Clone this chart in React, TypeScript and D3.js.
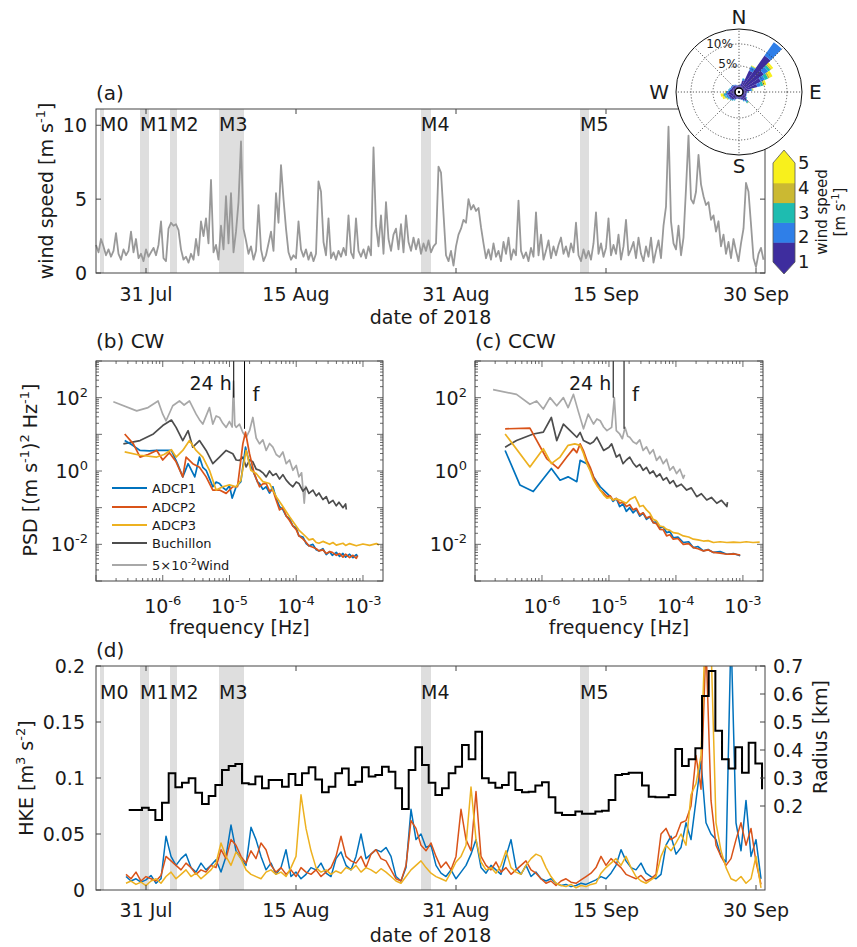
import React from "react";
import * as d3 from "d3";

const FONT = "'DejaVu Sans', sans-serif";
const DAY = 864e5;
const T0 = Date.UTC(2018, 6, 26);
const day = (d: number) => new Date(T0 + d * DAY);

// measurement periods (days after 26 Jul 2018)
const mNames = ["M0", "M1", "M2", "M3", "M4", "M5"];
const mStart = [0.4, 4.4, 7.4, 12.3, 32.5, 48.4];
const mEnd = [0.8, 5.3, 8.1, 14.8, 33.5, 49.3];

const dateTicks = ["2018-07-31", "2018-08-15", "2018-08-31", "2018-09-15", "2018-09-30"];

// (a) wind speed [m/s], 6-hourly from 26 Jul
const windStep = 0.25;
const windSpeed = [
  1.9, 1.4, 2.3, 1.8, 1.2, 1.6, 1.1, 1.5, 2.7, 1.3, 0.9, 1.6, 1.2, 1.5, 2.8, 1.4,
  2.3, 1.0, 1.3, 0.8, 1.6, 1.1, 1.4, 1.7, 1.2, 1.9, 3.5, 1.0, 0.8, 3.0, 3.4, 3.2,
  3.3, 2.9, 1.6, 0.9, 1.1, 0.7, 1.3, 0.9, 2.3, 1.2, 3.5, 2.5, 3.7, 2.0, 6.3, 1.4,
  1.9, 0.9, 3.2, 1.6, 5.2, 2.0, 5.4, 1.4, 2.8, 4.8, 8.9, 3.0, 2.2, 1.3, 1.8, 0.9,
  1.5, 4.6, 1.6, 0.8, 1.2, 2.0, 2.8, 1.5, 5.4, 3.4, 7.3, 5.0, 3.0, 1.4, 0.9, 1.2,
  1.0, 3.5, 1.6, 1.1, 1.6, 0.9, 1.4, 0.8, 1.3, 6.2, 5.5, 2.1, 1.2, 3.7, 1.0, 1.4,
  0.9, 1.5, 1.1, 1.7, 1.2, 3.9, 1.4, 1.0, 3.7, 1.5, 1.1, 1.6, 1.0, 1.8, 1.2, 8.5,
  3.2, 1.8, 3.9, 1.3, 4.8, 2.3, 1.5, 2.6, 3.0, 1.6, 3.3, 1.4, 3.9, 2.1, 1.5, 2.4,
  1.6, 2.3, 1.3, 2.0, 1.5, 2.2, 1.4, 1.8, 2.0, 7.2, 6.8, 4.0, 1.2, 0.8, 1.5, 0.5,
  1.8, 2.6, 3.0, 3.6, 3.4, 5.0, 4.3, 4.6, 4.2, 4.4, 3.1, 2.0, 1.0, 1.6, 0.9, 2.0,
  1.1, 1.5, 0.8, 2.1, 1.3, 2.4, 0.9, 1.6, 1.2, 4.9, 1.5, 1.0, 1.4, 0.8, 1.7, 1.1,
  4.1, 1.2, 2.6, 0.9, 1.5, 2.2, 1.0, 1.8, 1.2, 1.9, 2.4, 1.3, 1.8, 1.1, 2.0, 1.4,
  3.4, 1.2, 0.8, 1.6, 1.0, 1.5, 0.9, 2.0, 4.1, 1.3, 2.0, 1.1, 1.7, 3.7, 1.2, 1.9,
  1.3, 2.6, 0.9, 1.8, 3.6, 1.2, 1.6, 2.1, 1.0, 2.4, 1.3, 0.8, 1.8, 1.1, 2.4, 0.7,
  1.5, 2.2, 1.0, 3.2, 4.5, 9.9, 3.5, 2.0, 1.6, 3.2, 1.2, 2.4, 5.7, 9.3, 5.0, 4.7,
  5.5, 8.0, 6.0, 5.2, 4.6, 4.8, 3.6, 3.9, 2.8, 3.5, 1.8, 2.6, 1.3, 2.1, 1.0, 2.3,
  1.5, 0.8, 2.0, 3.0, 6.1, 5.5, 3.3, 1.0, 0.4, 1.3, 1.7, 0.9,
];

// wind rose: direction (deg from N) and frequency [%] per speed class
const roseDirs = [0, 10, 20, 30, 40, 50, 60, 70, 80, 90, 100, 110, 120, 130, 140, 150, 160, 170,
  180, 190, 200, 210, 220, 230, 240, 250, 260, 270, 280, 290, 300, 310, 320, 330, 340, 350];
const roseLow = [0.6, 0.8, 1.8, 4.5, 9.2, 6.0, 4.6, 3.4, 1.6, 1.0, 0.8, 0.8, 0.9, 1.1, 1.6, 1.2, 0.9, 0.7,
  0.6, 0.6, 0.7, 1.0, 1.2, 1.4, 1.5, 1.6, 1.8, 1.5, 1.2, 1.0, 0.9, 1.0, 0.9, 0.8, 0.7, 0.6];
const rose23 = [0.1, 0.2, 0.4, 0.9, 3.7, 1.2, 1.0, 0.8, 0.4, 0.2, 0.1, 0.1, 0.1, 0.2, 0.3, 0.2, 0.1, 0.1,
  0.1, 0.1, 0.1, 0.2, 0.3, 0.3, 0.4, 0.5, 0.5, 0.4, 0.3, 0.3, 0.3, 0.3, 0.2, 0.2, 0.1, 0.1];
const rose34 = [0, 0, 0.1, 0.2, 0, 0.6, 0.8, 0.6, 0.2, 0.1, 0, 0, 0, 0.1, 0.3, 0.1, 0, 0,
  0, 0, 0, 0.1, 0.1, 0.1, 0.2, 0.3, 0.3, 0.2, 0.1, 0.1, 0, 0, 0, 0, 0, 0];
const rose45 = [0, 0, 0, 0.1, 0, 0.3, 0.4, 0.3, 0.1, 0, 0, 0, 0, 0, 0.1, 0, 0, 0,
  0, 0, 0, 0, 0, 0, 0.1, 0.2, 0.2, 0.1, 0, 0, 0, 0, 0, 0, 0, 0];
const roseHigh = [0, 0, 0, 0.1, 0, 0.5, 0.7, 0.4, 0.1, 0, 0, 0, 0, 0, 0, 0, 0, 0,
  0, 0, 0, 0, 0, 0, 0.1, 0.4, 0.5, 0.1, 0, 0, 0, 0, 0, 0, 0, 0];
const speedColors = ["#3e2d9e", "#2f7fe8", "#1ebcb0", "#cbb932", "#f8f01c"];
const speedTicks = [1, 2, 3, 4, 5];

// (b) CW spectra, [log10 f (Hz), log10 PSD]
const cwWind = [[-6.74,1.89],[-6.39,1.64],[-6.22,1.73],[-6.07,1.91],[-6.0,1.55],[-5.95,1.37],[-5.85,1.78],[-5.75,1.91],[-5.68,1.8],[-5.6,1.91],[-5.5,1.55],[-5.45,1.4],[-5.4,1.28],[-5.3,1.73],[-5.25,1.28],[-5.2,1.5],[-5.15,1.46],[-5.1,1.3],[-5.05,1.19],[-5.0,1.35],[-4.96,1.2],[-4.94,2.45],[-4.92,1.25],[-4.9,1.19],[-4.85,1.28],[-4.8,1.05],[-4.75,0.92],[-4.7,1.1],[-4.65,1.46],[-4.6,0.9],[-4.55,0.74],[-4.5,0.85],[-4.45,0.56],[-4.4,0.75],[-4.35,0.65],[-4.3,0.45],[-4.25,0.38],[-4.2,0.52],[-4.15,0.2],[-4.1,0.3],[-4.05,0.02],[-4.0,0.15],[-3.96,-0.16],[-3.92,-0.05],[-3.88,-0.88],[-3.86,-0.4]];
const cwBuchillon = [[-6.59,0.74],[-6.34,0.83],[-6.14,1.01],[-6.0,1.24],[-5.87,1.39],[-5.8,1.19],[-5.7,0.83],[-5.62,1.1],[-5.55,0.65],[-5.45,0.83],[-5.35,0.56],[-5.25,0.2],[-5.15,0.38],[-5.05,0.56],[-4.95,0.47],[-4.9,0.3],[-4.85,0.29],[-4.8,0.38],[-4.75,0.11],[-4.7,0.3],[-4.65,0.25],[-4.6,0.05],[-4.55,0.02],[-4.5,-0.05],[-4.45,-0.16],[-4.4,0.0],[-4.35,-0.12],[-4.3,-0.07],[-4.25,-0.22],[-4.2,-0.1],[-4.15,-0.25],[-4.1,-0.35],[-4.05,-0.43],[-4.0,-0.3],[-3.96,-0.34],[-3.9,-0.55],[-3.85,-0.45],[-3.81,-0.61],[-3.75,-0.52],[-3.7,-0.68],[-3.66,-0.6],[-3.6,-0.78],[-3.55,-0.7],[-3.51,-0.88],[-3.45,-0.8],[-3.4,-0.95],[-3.36,-0.85],[-3.3,-1.0],[-3.26,-0.9],[-3.25,-1.05]];
const cwAdcp1 = [[-6.57,0.83],[-6.45,0.7],[-6.34,0.56],[-6.2,0.55],[-6.09,0.56],[-5.95,0.56],[-5.87,0.56],[-5.78,0.2],[-5.7,-0.16],[-5.62,0.2],[-5.52,-0.16],[-5.45,0.38],[-5.4,0.1],[-5.35,0.02],[-5.3,-0.2],[-5.25,-0.43],[-5.2,-0.3],[-5.15,-0.34],[-5.1,-0.45],[-5.05,-0.52],[-5.0,-0.4],[-4.96,-0.74],[-4.9,-0.43],[-4.83,-0.29],[-4.76,0.65],[-4.7,0.2],[-4.63,-0.07],[-4.58,-0.3],[-4.55,-0.34],[-4.5,-0.5],[-4.45,-0.43],[-4.4,-0.6],[-4.35,-0.43],[-4.3,-0.75],[-4.25,-0.97],[-4.2,-1.05],[-4.15,-1.23],[-4.1,-1.3],[-4.05,-1.5],[-4.0,-1.55],[-3.96,-1.77],[-3.9,-1.8],[-3.85,-1.98],[-3.81,-2.04],[-3.75,-2.0],[-3.7,-2.15],[-3.66,-2.18],[-3.6,-2.12],[-3.55,-2.28],[-3.5,-2.2],[-3.46,-2.3],[-3.4,-2.22],[-3.35,-2.33],[-3.3,-2.25],[-3.26,-2.35],[-3.2,-2.27],[-3.15,-2.36],[-3.1,-2.28],[-3.08,-2.33]];
const cwAdcp2 = [[-6.57,1.01],[-6.44,0.74],[-6.34,0.38],[-6.22,0.45],[-6.09,0.56],[-6.0,0.3],[-5.9,0.5],[-5.8,0.25],[-5.7,-0.16],[-5.65,0.38],[-5.55,0.2],[-5.45,0.1],[-5.35,-0.16],[-5.25,-0.52],[-5.15,-0.52],[-5.05,-0.61],[-4.95,-0.43],[-4.88,-0.43],[-4.8,0.74],[-4.76,1.06],[-4.7,0.47],[-4.63,-0.07],[-4.55,-0.43],[-4.5,-0.35],[-4.45,-0.34],[-4.4,-0.55],[-4.35,-0.52],[-4.3,-0.8],[-4.25,-1.06],[-4.2,-1.0],[-4.15,-1.23],[-4.1,-1.35],[-4.05,-1.5],[-4.0,-1.6],[-3.96,-1.77],[-3.9,-1.85],[-3.85,-1.95],[-3.81,-2.04],[-3.75,-2.08],[-3.7,-2.12],[-3.66,-2.18],[-3.6,-2.15],[-3.55,-2.25],[-3.5,-2.2],[-3.46,-2.22],[-3.4,-2.3],[-3.35,-2.25],[-3.3,-2.35],[-3.26,-2.27],[-3.2,-2.36],[-3.15,-2.3],[-3.1,-2.38],[-3.08,-2.31]];
const cwAdcp3 = [[-6.57,0.52],[-6.34,0.43],[-6.09,0.38],[-5.98,0.45],[-5.87,0.58],[-5.8,0.38],[-5.7,0.56],[-5.6,0.83],[-5.5,0.56],[-5.4,0.38],[-5.3,0.02],[-5.2,-0.52],[-5.1,-0.43],[-5.0,-0.38],[-4.9,-0.43],[-4.83,-0.25],[-4.75,0.56],[-4.68,0.02],[-4.6,-0.07],[-4.5,-0.29],[-4.4,-0.34],[-4.3,-0.7],[-4.2,-0.97],[-4.1,-1.25],[-3.96,-1.61],[-3.85,-1.8],[-3.81,-1.88],[-3.75,-1.85],[-3.7,-1.95],[-3.66,-1.97],[-3.6,-1.92],[-3.5,-2.0],[-3.45,-1.95],[-3.4,-2.02],[-3.3,-1.97],[-3.26,-2.03],[-3.2,-1.98],[-3.1,-2.04],[-3.0,-1.99],[-2.9,-2.03],[-2.8,-1.98],[-2.76,-2.02]];

// (c) CCW spectra
const ccwWind = [[-6.73,2.22],[-6.38,2.09],[-6.18,1.82],[-6.08,1.91],[-5.98,1.69],[-5.88,2.0],[-5.78,1.78],[-5.68,2.0],[-5.61,1.73],[-5.53,2.09],[-5.46,1.64],[-5.38,1.15],[-5.31,1.55],[-5.23,1.28],[-5.18,1.42],[-5.13,1.37],[-5.08,1.2],[-5.03,1.1],[-4.96,1.19],[-4.92,2.0],[-4.89,1.1],[-4.84,1.01],[-4.8,0.88],[-4.76,1.19],[-4.72,0.95],[-4.69,0.92],[-4.64,0.8],[-4.59,0.74],[-4.54,0.85],[-4.49,0.56],[-4.44,0.66],[-4.39,0.47],[-4.34,0.58],[-4.29,0.29],[-4.24,0.4],[-4.19,0.2],[-4.14,0.32],[-4.09,0.02],[-4.04,0.12],[-3.99,-0.07],[-3.94,0.05],[-3.89,-0.2],[-3.87,-0.1]];
const ccwBuchillon = [[-6.55,0.65],[-6.38,0.83],[-6.13,1.01],[-5.98,1.06],[-5.86,1.46],[-5.78,0.83],[-5.68,1.28],[-5.58,1.1],[-5.48,0.92],[-5.43,1.05],[-5.38,0.83],[-5.28,0.74],[-5.23,0.8],[-5.18,0.92],[-5.08,0.56],[-5.0,0.65],[-4.96,0.74],[-4.89,0.38],[-4.84,0.45],[-4.79,0.2],[-4.74,0.3],[-4.69,0.38],[-4.64,0.22],[-4.59,0.11],[-4.54,0.18],[-4.49,0.02],[-4.44,0.1],[-4.39,-0.07],[-4.34,0.0],[-4.29,-0.16],[-4.24,-0.08],[-4.19,-0.25],[-4.14,-0.18],[-4.09,-0.34],[-4.04,-0.26],[-3.99,-0.43],[-3.92,-0.36],[-3.84,-0.52],[-3.77,-0.46],[-3.69,-0.7],[-3.62,-0.62],[-3.54,-0.79],[-3.47,-0.72],[-3.39,-0.88],[-3.32,-0.8],[-3.24,-0.97],[-3.23,-0.85]];
const ccwAdcp1 = [[-6.55,0.56],[-6.33,-0.38],[-6.13,-0.56],[-5.86,0.07],[-5.73,-0.25],[-5.61,-0.16],[-5.48,-0.29],[-5.43,0.29],[-5.33,0.2],[-5.28,0.05],[-5.23,-0.16],[-5.18,-0.3],[-5.13,-0.43],[-5.08,-0.52],[-5.03,-0.61],[-4.98,-0.7],[-4.94,-0.83],[-4.89,-0.75],[-4.84,-0.97],[-4.79,-0.9],[-4.74,-1.1],[-4.69,-1.0],[-4.64,-1.14],[-4.59,-1.05],[-4.54,-1.23],[-4.49,-1.15],[-4.44,-1.32],[-4.39,-1.25],[-4.34,-1.41],[-4.29,-1.38],[-4.24,-1.55],[-4.19,-1.52],[-4.14,-1.68],[-4.09,-1.65],[-4.04,-1.82],[-3.97,-1.8],[-3.89,-1.95],[-3.81,-1.93],[-3.74,-2.09],[-3.67,-2.06],[-3.59,-2.18],[-3.52,-2.14],[-3.44,-2.22],[-3.34,-2.2],[-3.24,-2.27],[-3.14,-2.25],[-3.04,-2.31]];
const ccwAdcp2 = [[-6.55,1.15],[-6.18,1.17],[-5.93,0.34],[-5.76,0.07],[-5.63,0.38],[-5.53,0.61],[-5.48,0.5],[-5.43,0.74],[-5.38,0.55],[-5.33,0.29],[-5.28,0.1],[-5.23,-0.16],[-5.18,-0.35],[-5.13,-0.52],[-5.08,-0.6],[-5.03,-0.7],[-4.98,-0.68],[-4.94,-0.79],[-4.89,-0.75],[-4.84,-0.88],[-4.79,-0.85],[-4.74,-0.97],[-4.69,-0.92],[-4.64,-1.06],[-4.59,-1.02],[-4.54,-1.19],[-4.49,-1.14],[-4.44,-1.28],[-4.39,-1.24],[-4.34,-1.41],[-4.29,-1.44],[-4.24,-1.59],[-4.19,-1.6],[-4.14,-1.77],[-4.09,-1.74],[-4.04,-1.86],[-3.97,-1.84],[-3.89,-2.0],[-3.81,-1.98],[-3.74,-2.09],[-3.67,-2.12],[-3.59,-2.18],[-3.52,-2.15],[-3.44,-2.22],[-3.34,-2.24],[-3.24,-2.27],[-3.14,-2.26],[-3.04,-2.29]];
const ccwAdcp3 = [[-6.55,1.01],[-6.18,0.11],[-5.98,0.61],[-5.86,0.2],[-5.73,0.38],[-5.61,0.7],[-5.51,0.74],[-5.43,0.7],[-5.38,0.48],[-5.33,0.2],[-5.28,0.0],[-5.23,-0.25],[-5.18,-0.4],[-5.13,-0.52],[-5.08,-0.65],[-5.03,-0.74],[-4.98,-0.72],[-4.94,-0.79],[-4.89,-0.76],[-4.84,-0.79],[-4.79,-0.84],[-4.74,-0.88],[-4.69,-0.78],[-4.61,-0.7],[-4.57,-0.85],[-4.54,-0.97],[-4.49,-0.94],[-4.44,-1.06],[-4.39,-1.15],[-4.34,-1.32],[-4.29,-1.36],[-4.24,-1.5],[-4.19,-1.52],[-4.14,-1.59],[-4.09,-1.62],[-4.04,-1.68],[-3.97,-1.7],[-3.89,-1.77],[-3.81,-1.8],[-3.74,-1.86],[-3.67,-1.88],[-3.59,-1.91],[-3.52,-1.9],[-3.44,-1.95],[-3.34,-1.93],[-3.24,-1.95],[-3.14,-1.94],[-3.04,-1.95],[-2.95,-1.93],[-2.85,-1.95],[-2.75,-1.94]];

const seriesNames = ["ADCP1", "ADCP2", "ADCP3", "Buchillon", "Wind"];
const seriesColors = ["#0072bd", "#d95319", "#edb120", "#4d4d4d", "#a8a8a8"];
const inertialHz = 1.68e-5;
const diurnalHz = 1 / 86400;

// (d) HKE [m3 s-2], 12-hourly from 29 Jul
const hkeStart = 3;
const hkeStep = 0.5;
const hkeAdcp1 = [
  .012, .008, .010, .007, .009, .013, .006, .010, .048, .030, .022, .028, .032, .020, .016, .024,
  .018, .022, .027, .016, .030, .058, .035, .028, .022, .056, .045, .030, .018, .024, .014, .020,
  .036, .012, .016, .010, .014, .020, .018, .024, .015, .012, .028, .034, .022, .018, .030, .050,
  .028, .032, .036, .034, .038, .030, .012, .008, .020, .072, .045, .050, .038, .040, .022, .015,
  .012, .018, .010, .016, .022, .032, .045, .020, .015, .022, .018, .014, .030, .045, .020, .014,
  .022, .012, .016, .010, .008, .010, .006, .004, .005, .003, .004, .006, .005, .007, .009, .012,
  .010, .015, .022, .036, .026, .020, .018, .024, .015, .012, .010, .014, .040, .048, .032, .038,
  .060, .045, .080, .115, .060, .050, .045, .030, .025, .230, .060, .035, .080, .030, .045, .010,
];
const hkeAdcp2 = [
  .014, .010, .016, .008, .012, .010, .008, .013, .030, .026, .022, .018, .024, .020, .014, .018,
  .016, .022, .020, .036, .028, .045, .040, .030, .024, .035, .028, .042, .036, .022, .016, .020,
  .014, .018, .012, .020, .016, .014, .018, .012, .016, .020, .030, .048, .030, .026, .024, .030,
  .020, .032, .036, .028, .026, .018, .010, .008, .022, .062, .055, .040, .035, .042, .030, .020,
  .025, .018, .030, .072, .045, .035, .088, .030, .022, .018, .025, .016, .020, .014, .018, .022,
  .026, .018, .015, .010, .006, .008, .004, .008, .010, .007, .006, .009, .012, .015, .020, .030,
  .022, .028, .024, .020, .014, .012, .010, .013, .008, .010, .014, .050, .055, .045, .048, .060,
  .062, .075, .120, .090, .220, .080, .040, .030, .022, .028, .045, .060, .040, .055, .025, .005,
];
const hkeAdcp3 = [
  .006, .008, .005, .007, .004, .008, .010, .006, .012, .016, .010, .014, .018, .012, .015, .010,
  .014, .018, .024, .042, .030, .022, .034, .028, .018, .014, .012, .010, .016, .018, .014, .016,
  .012, .020, .030, .085, .055, .035, .020, .016, .018, .014, .017, .015, .020, .018, .022, .016,
  .020, .018, .015, .019, .016, .012, .008, .006, .012, .018, .022, .026, .020, .015, .012, .010,
  .008, .016, .025, .030, .040, .092, .045, .025, .018, .020, .015, .022, .035, .020, .016, .014,
  .022, .028, .032, .030, .020, .012, .006, .004, .003, .005, .002, .004, .003, .005, .006, .015,
  .020, .024, .028, .022, .030, .020, .012, .008, .006, .009, .012, .030, .040, .035, .042, .050,
  .040, .085, .095, .120, .250, .220, .060, .035, .020, .010, .008, .012, .006, .010, .030, .002,
];

// (d) eddy radius [km], 16-h blocks from 29 Jul
const radiusStart = 3.27;
const radiusStep = 2 / 3;
const radiusKm = [
  0.186, 0.186, 0.194, 0.186, 0.150, 0.212, 0.317, 0.267, 0.283, 0.299, 0.247, 0.207, 0.236, 0.275, 0.329,
  0.343, 0.350, 0.281, 0.278, 0.305, 0.263, 0.293, 0.293, 0.269, 0.314, 0.275, 0.317, 0.338, 0.295, 0.249,
  0.269, 0.317, 0.334, 0.275, 0.287, 0.338, 0.305, 0.311, 0.340, 0.322, 0.263, 0.189, 0.329, 0.410, 0.346,
  0.283, 0.239, 0.263, 0.317, 0.340, 0.418, 0.367, 0.465, 0.299, 0.283, 0.265, 0.275, 0.320, 0.257, 0.249,
  0.251, 0.273, 0.285, 0.231, 0.176, 0.168, 0.168, 0.180, 0.172, 0.172, 0.180, 0.183, 0.221, 0.311, 0.314,
  0.319, 0.319, 0.273, 0.233, 0.231, 0.231, 0.239, 0.404, 0.343, 0.367, 0.406, 0.593, 0.682, 0.469, 0.367,
  0.334, 0.410, 0.319, 0.426, 0.352,
];
const radiusEnd = 0.26;

const AX = "#444";
const TX = "#1a1a1a";
const FS = 19;

function Rich({ parts, size, supSize = 12, ...rest }: any) {
  let level = 0;
  return (
    <text {...rest} fontSize={size}>
      {parts.map(([s, sup]: [string, number], i: number) => {
        const dy = sup === level ? 0 : sup ? -size * 0.42 : size * 0.42;
        level = sup;
        return <tspan key={i} dy={dy} fontSize={sup ? supSize : size}>{s}</tspan>;
      })}
    </text>
  );
}

function Bands({ x, top, bottom, labelY }: any) {
  return (
    <g>
      {mNames.map((n, i) => (
        <rect key={n} x={x(day(mStart[i]))} y={top} width={x(day(mEnd[i])) - x(day(mStart[i]))}
          height={bottom - top} fill="#dedede" />
      ))}
      {mNames.map((n, i) => (
        <text key={n + "l"} x={x(day(mStart[i]))} y={labelY} fontSize={FS} fill={TX}>{n}</text>
      ))}
    </g>
  );
}

function DateAxis({ x, top, bottom, labelY, titleY }: any) {
  const fmt = d3.utcFormat("%d %b");
  return (
    <g>
      {dateTicks.map(s => {
        const t = new Date(s + "T00:00:00Z");
        const px = x(t);
        return (
          <g key={s}>
            <line x1={px} x2={px} y1={bottom} y2={bottom - 5} stroke={AX} />
            <line x1={px} x2={px} y1={top} y2={top + 5} stroke={AX} />
            <text x={px} y={labelY} textAnchor="middle" fontSize={FS} fill={TX}>{fmt(t)}</text>
          </g>
        );
      })}
      <text x={(x.range()[0] + x.range()[1]) / 2} y={titleY} textAnchor="middle" fontSize={FS} fill={TX}>date of 2018</text>
    </g>
  );
}

function SpecPanel({ x0, x1, top, bottom, title, data, yLabels, id }: any) {
  const xs = d3.scaleLog().domain([1e-7, 10 ** -2.7]).range([x0, x1]);
  const ys = d3.scaleLog().domain([1e-3, 1e3]).range([bottom, top]);
  const isMajor = (v: number) => Math.abs(Math.log10(v) - Math.round(Math.log10(v))) < 1e-6;
  const line = d3.line<number[]>().x(d => xs(10 ** d[0])).y(d => ys(10 ** d[1]));
  const order = [4, 3, 0, 1, 2];
  const x24 = xs(diurnalHz);
  const xf = xs(inertialHz);
  return (
    <g>
      <text x={x0} y={top - 13} fontSize={20} fill={TX}>{title}</text>
      <clipPath id={id}><rect x={x0} y={top} width={x1 - x0} height={bottom - top} /></clipPath>
      <g clipPath={`url(#${id})`}>
        {order.map(k => (
          <path key={k} d={line(data[k]) || ""} fill="none" stroke={seriesColors[k]} strokeWidth={1.7} strokeLinejoin="round" />
        ))}
        <line x1={x24} x2={x24} y1={top} y2={ys(10 ** 2)} stroke="#000" strokeWidth={1} />
        <line x1={xf} x2={xf} y1={top} y2={ys(10 ** 1.15)} stroke="#000" strokeWidth={1} />
      </g>
      <text x={x24 - 2} y={top + 29} textAnchor="end" fontSize={FS} fill={TX}>24 h</text>
      <text x={xf + 8} y={top + 40} fontSize={20} fill={TX}>f</text>
      {xs.ticks().filter(v => v <= 10 ** -2.7).map((v, i) => {
        const L = isMajor(v) ? 6 : 3;
        const px = xs(v);
        return (
          <g key={"x" + i}>
            <line x1={px} x2={px} y1={bottom} y2={bottom - L} stroke={AX} strokeWidth={0.8} />
            <line x1={px} x2={px} y1={top} y2={top + L} stroke={AX} strokeWidth={0.8} />
          </g>
        );
      })}
      {ys.ticks().map((v, i) => {
        const L = isMajor(v) ? 6 : 3;
        const py = ys(v);
        return (
          <g key={"y" + i}>
            <line x1={x0} x2={x0 + L} y1={py} y2={py} stroke={AX} strokeWidth={0.8} />
            <line x1={x1} x2={x1 - L} y1={py} y2={py} stroke={AX} strokeWidth={0.8} />
          </g>
        );
      })}
      {[-6, -5, -4, -3].map(e => (
        <Rich key={e} x={xs(10 ** e)} y={613} textAnchor="middle" size={FS} supSize={13} fill={TX}
          parts={[["10", 0], [String(e), 1]]} />
      ))}
      {yLabels.map((e: number) => (
        <Rich key={e} x={x0 - 8} y={ys(10 ** e) + 7} textAnchor="end" size={FS} supSize={13} fill={TX}
          parts={[["10", 0], [String(e), 1]]} />
      ))}
      <text x={(x0 + x1) / 2} y={634} textAnchor="middle" fontSize={FS} fill={TX}>frequency [Hz]</text>
      <rect x={x0} y={top} width={x1 - x0} height={bottom - top} fill="none" stroke={AX} />
    </g>
  );
}

function WindRose() {
  const cx = 739, cy = 92, R = 63;
  const r = d3.scaleLinear().domain([0, 10]).range([4, 48]);
  const bins = [roseLow, rose23, rose34, rose45, roseHigh];
  const arc = d3.arc();
  const rad = Math.PI / 180;
  const wedges: any[] = [];
  roseDirs.forEach((dir, i) => {
    let c = 0;
    bins.forEach((b, k) => {
      const v = b[i];
      if (v > 0) {
        wedges.push(
          <path key={`${i}-${k}`} fill={speedColors[k]}
            d={arc({ innerRadius: r(c), outerRadius: r(c + v), startAngle: (dir - 5) * rad, endAngle: (dir + 5) * rad } as any) || ""} />
        );
      }
      c += v;
    });
  });
  const labAng = -22 * rad;
  return (
    <g>
      <circle cx={cx} cy={cy} r={R} fill="#fff" stroke="#111" strokeWidth={1} />
      <g transform={`translate(${cx},${cy})`}>
        {wedges}
        {[5, 10].map(p => (
          <circle key={p} r={r(p)} fill="none" stroke="#333" strokeWidth={0.8} strokeDasharray="1.2,1.8" />
        ))}
        {d3.range(0, 360, 45).map(a => (
          <line key={a} x1={0} y1={0} x2={R * Math.sin(a * rad)} y2={-R * Math.cos(a * rad)}
            stroke="#333" strokeWidth={0.8} strokeDasharray="1.2,1.8" />
        ))}
        {[5, 10].map(p => (
          <text key={"t" + p} x={(r(p) + 4) * Math.sin(labAng)} y={-(r(p) + 4) * Math.cos(labAng) + 4}
            textAnchor="middle" fontSize={12} fill={TX}>{p}%</text>
        ))}
        <circle r={4} fill="#fff" stroke="#000" strokeWidth={1.5} />
        <circle r={1.2} fill="#000" />
      </g>
      <text x={cx} y={cy - R - 5} textAnchor="middle" fontSize={20} fill={TX}>N</text>
      <text x={cx} y={cy + R + 18} textAnchor="middle" fontSize={20} fill={TX}>S</text>
      <text x={cx + R + 7} y={cy + 7} fontSize={20} fill={TX}>E</text>
      <text x={cx - R - 7} y={cy + 7} textAnchor="end" fontSize={20} fill={TX}>W</text>
    </g>
  );
}

function Colorbar() {
  const x0 = 773, w = 22;
  const y = d3.scaleLinear().domain([1, 5]).range([262, 163]);
  const edges = d3.range(6).map(i => 262 - (i * 99) / 5);
  return (
    <g>
      {speedColors.map((c, i) => (
        <rect key={c} x={x0} y={edges[i + 1]} width={w} height={edges[i] - edges[i + 1] + 0.5} fill={c} />
      ))}
      <polygon points={`${x0},163 ${x0 + w},163 ${x0 + w / 2},150`} fill={speedColors[4]} />
      <polygon points={`${x0},262 ${x0 + w},262 ${x0 + w / 2},274`} fill={speedColors[0]} />
      <polygon points={`${x0},163 ${x0 + w / 2},150 ${x0 + w},163 ${x0 + w},262 ${x0 + w / 2},274 ${x0},262`}
        fill="none" stroke="#555" strokeWidth={0.8} />
      {speedTicks.map(v => (
        <text key={v} x={x0 + w + 3} y={y(v) + 6} fontSize={18} fill={TX}>{v}</text>
      ))}
      <g transform="translate(827,212) rotate(-90)">
        <text textAnchor="middle" fontSize={15} fill={TX}>wind speed</text>
      </g>
      <Rich transform="translate(845,212) rotate(-90)" textAnchor="middle" size={15} supSize={10} fill={TX}
        parts={[["[m s", 0], ["-1", 1], ["]", 0]]} />
    </g>
  );
}

export default function App() {
  const x = d3.scaleUtc().domain([day(0), day(66.9)]).range([96, 765]);
  const yA = d3.scaleLinear().domain([0, 11.1]).range([273, 109]);
  const yD = d3.scaleLinear().domain([0, 0.2]).range([890, 666]);
  const yR = d3.scaleLinear().domain([-0.1, 0.7]).range([890, 666]);

  const windLine = d3.line<number>().x((_, i) => x(day(i * windStep))).y(v => yA(v));
  const hkeLine = d3.line<number>().x((_, i) => x(day(hkeStart + i * hkeStep))).y(v => yD(v));
  const radiusPts = radiusKm.map((v, i) => [radiusStart + i * radiusStep, v]);
  radiusPts.push([radiusStart + radiusKm.length * radiusStep, radiusEnd]);
  const radiusLine = d3.line<number[]>().x(d => x(day(d[0]))).y(d => yR(d[1])).curve(d3.curveStepAfter);

  const cw = [cwAdcp1, cwAdcp2, cwAdcp3, cwBuchillon, cwWind];
  const ccw = [ccwAdcp1, ccwAdcp2, ccwAdcp3, ccwBuchillon, ccwWind];
  const legendY = [488, 507, 525, 543, 565];

  return (
    <svg width={857} height={947} style={{ position: "absolute", left: 0, top: 0, background: "#fff" }}
      fontFamily={FONT}>
      <rect width={857} height={947} fill="#fff" />

      {/* (a) wind speed */}
      <text x={96} y={100} fontSize={20} fill={TX}>(a)</text>
      <Bands x={x} top={109} bottom={273} labelY={131} />
      <path d={windLine(windSpeed) || ""} fill="none" stroke="#999" strokeWidth={1.8} strokeLinejoin="round" />
      {[0, 5, 10].map(v => (
        <g key={v}>
          <line x1={96} x2={101} y1={yA(v)} y2={yA(v)} stroke={AX} />
          <line x1={765} x2={760} y1={yA(v)} y2={yA(v)} stroke={AX} />
          <text x={87} y={yA(v) + 7} textAnchor="end" fontSize={FS} fill={TX}>{v}</text>
        </g>
      ))}
      <DateAxis x={x} top={109} bottom={273} labelY={301} titleY={324} />
      <rect x={96} y={109} width={669} height={164} fill="none" stroke={AX} />
      <Rich transform="translate(53,191) rotate(-90)" textAnchor="middle" size={FS} supSize={13} fill={TX}
        parts={[["wind speed [m s", 0], ["-1", 1], ["]", 0]]} />

      <WindRose />
      <Colorbar />

      {/* (b), (c) rotary spectra */}
      <SpecPanel x0={96} x1={383} top={361} bottom={581} title="(b) CW" data={cw} yLabels={[-2, 0, 2]} id="clipB" />
      <SpecPanel x0={475} x1={763} top={361} bottom={581} title="(c) CCW" data={ccw} yLabels={[-2, 0, 2]} id="clipC" />
      <Rich transform="translate(37,470) rotate(-90)" textAnchor="middle" size={FS} supSize={13} fill={TX}
        parts={[["PSD [(m s", 0], ["-1", 1], [")", 0], ["2", 1], [" Hz", 0], ["-1", 1], ["]", 0]]} />
      {seriesNames.map((n, i) => (
        <g key={n}>
          <line x1={112} x2={147} y1={legendY[i]} y2={legendY[i]} stroke={seriesColors[i]} strokeWidth={1.8} />
          {n === "Wind" ? (
            <Rich x={152} y={legendY[i] + 5} size={13} supSize={9} fill={TX}
              parts={[["5\u00d710", 0], ["-2", 1], ["Wind", 0]]} />
          ) : (
            <text x={152} y={legendY[i] + 5} fontSize={13} fill={TX}>{n}</text>
          )}
        </g>
      ))}

      {/* (d) HKE and radius */}
      <text x={96} y={657} fontSize={20} fill={TX}>(d)</text>
      <Bands x={x} top={666} bottom={890} labelY={699} />
      <clipPath id="clipD"><rect x={96} y={666} width={669} height={224} /></clipPath>
      <g clipPath="url(#clipD)">
        {[hkeAdcp1, hkeAdcp2, hkeAdcp3].map((s, k) => (
          <path key={k} d={hkeLine(s) || ""} fill="none" stroke={seriesColors[k]} strokeWidth={1.5} strokeLinejoin="round" />
        ))}
        <path d={radiusLine(radiusPts) || ""} fill="none" stroke="#000" strokeWidth={2} />
      </g>
      {[0, 0.05, 0.1, 0.15, 0.2].map(v => (
        <g key={v}>
          <line x1={96} x2={101} y1={yD(v)} y2={yD(v)} stroke={AX} />
          <text x={85} y={yD(v) + 7} textAnchor="end" fontSize={FS} fill={TX}>{v}</text>
        </g>
      ))}
      {[0.2, 0.3, 0.4, 0.5, 0.6, 0.7].map(v => (
        <g key={v}>
          <line x1={765} x2={760} y1={yR(v)} y2={yR(v)} stroke={AX} />
          <text x={773} y={yR(v) + 7} fontSize={FS} fill={TX}>{v}</text>
        </g>
      ))}
      <DateAxis x={x} top={666} bottom={890} labelY={917} titleY={942} />
      <rect x={96} y={666} width={669} height={224} fill="none" stroke={AX} />
      <Rich transform="translate(33,778) rotate(-90)" textAnchor="middle" size={FS} supSize={13} fill={TX}
        parts={[["HKE [m", 0], ["3", 1], [" s", 0], ["-2", 1], ["]", 0]]} />
      <text transform="translate(827,737) rotate(-90)" textAnchor="middle" fontSize={FS} fill={TX}>Radius [km]</text>
    </svg>
  );
}
